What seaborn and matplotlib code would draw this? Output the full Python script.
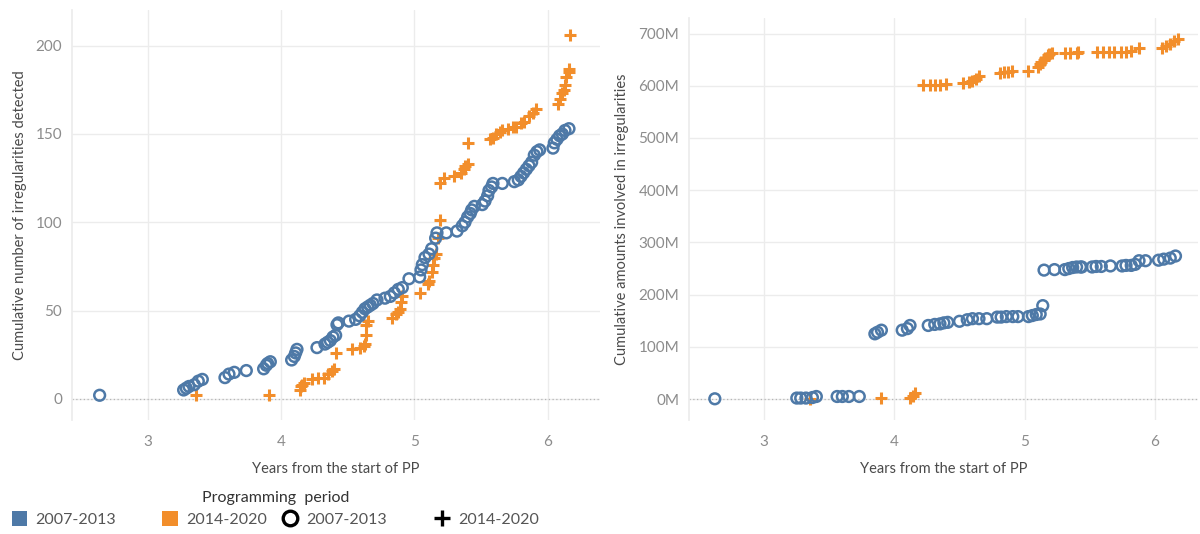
import numpy as np
import pandas as pd
import matplotlib.pyplot as plt
import seaborn as sns
from matplotlib.lines import Line2D
from matplotlib.patches import Patch
from matplotlib.ticker import FuncFormatter

sns.set_theme(style="whitegrid")
plt.rcParams['font.family'] = ['Lato', 'DejaVu Sans']

BLUE = "#4e79a7"
ORANGE = "#f28e2b"

# left panel: cumulative number of irregularities
cnt_old_years = [2.64, 3.27, 3.29, 3.31, 3.35, 3.38, 3.41, 3.58, 3.61, 3.65, 3.74, 3.87, 3.89, 3.90, 3.92,
                 4.08, 4.10, 4.11, 4.12, 4.27, 4.33, 4.35, 4.37, 4.39, 4.41, 4.42, 4.43, 4.51, 4.56, 4.59,
                 4.61, 4.63, 4.65, 4.67, 4.69, 4.72, 4.78, 4.82, 4.85, 4.88, 4.91, 4.96, 5.04, 5.05, 5.06,
                 5.08, 5.11, 5.13, 5.16, 5.17, 5.24, 5.32, 5.36, 5.38, 5.40, 5.42, 5.43, 5.45, 5.51, 5.53,
                 5.55, 5.56, 5.58, 5.59, 5.66, 5.75, 5.78, 5.80, 5.82, 5.84, 5.86, 5.88, 5.90, 5.92, 5.94,
                 6.04, 6.05, 6.07, 6.09, 6.11, 6.13, 6.16]
cnt_old_vals = [2, 5, 6, 7, 8, 10, 11, 12, 14, 15, 16, 17, 19, 20, 21,
                22, 24, 26, 28, 29, 31, 32, 33, 35, 36, 42, 43, 44, 45, 47,
                49, 51, 52, 53, 54, 56, 57, 58, 60, 62, 63, 68, 69, 73, 76,
                80, 82, 85, 91, 94, 94, 95, 98, 100, 103, 105, 107, 109, 110, 112,
                115, 118, 120, 122, 122, 123, 124, 126, 128, 130, 132, 134, 138, 140, 141,
                142, 145, 147, 149, 150, 152, 153]

cnt_new_years = [3.36, 3.91, 4.14, 4.15, 4.16, 4.17, 4.23, 4.28, 4.32, 4.35, 4.38, 4.40, 4.41, 4.53, 4.59,
                 4.62, 4.63, 4.64, 4.64, 4.65, 4.83, 4.86, 4.88, 4.89, 4.90, 4.91, 5.04, 5.10, 5.11, 5.13,
                 5.14, 5.15, 5.16, 5.18, 5.19, 5.19, 5.22, 5.30, 5.35, 5.37, 5.38, 5.40, 5.40, 5.57, 5.59,
                 5.61, 5.64, 5.66, 5.70, 5.74, 5.76, 5.80, 5.82, 5.86, 5.89, 5.91, 6.08, 6.09, 6.11, 6.12,
                 6.13, 6.14, 6.16, 6.16, 6.17]
cnt_new_vals = [2, 2, 5, 7, 8, 9, 11, 12, 12, 14, 16, 17, 26, 28, 29,
                30, 31, 36, 42, 44, 46, 48, 49, 51, 55, 58, 60, 65, 67, 72,
                76, 80, 82, 91, 101, 122, 125, 126, 128, 130, 132, 133, 145, 147, 148,
                150, 151, 152, 153, 154, 154, 156, 157, 160, 162, 164, 167, 170, 173, 175,
                178, 182, 185, 187, 206]

# right panel: cumulative amounts (millions)
amt_old_years = [2.62, 3.25, 3.28, 3.32, 3.37, 3.40, 3.56, 3.60, 3.65, 3.73, 3.85, 3.87, 3.90, 4.06, 4.10,
                 4.12, 4.26, 4.31, 4.35, 4.38, 4.41, 4.50, 4.56, 4.60, 4.65, 4.71, 4.79, 4.82, 4.86, 4.91,
                 4.95, 5.03, 5.06, 5.09, 5.12, 5.14, 5.15, 5.23, 5.31, 5.34, 5.37, 5.40, 5.43, 5.44, 5.52,
                 5.55, 5.59, 5.66, 5.75, 5.78, 5.82, 5.85, 5.88, 5.93, 6.03, 6.07, 6.12, 6.16]
amt_old_vals = [0.6, 2, 2, 2, 3, 5, 5, 5, 5, 5, 125, 128, 132, 132, 135,
                141, 141, 143, 144, 146, 147, 149, 152, 154, 154, 154, 157, 157, 158, 158,
                158, 158, 160, 162, 163, 179, 247, 248, 248, 250, 252, 253, 253, 253, 253,
                254, 254, 255, 255, 256, 256, 258, 265, 265, 266, 268, 270, 274]

amt_new_years = [3.35, 3.90, 4.12, 4.14, 4.16, 4.22, 4.27, 4.31, 4.35, 4.40, 4.53, 4.57, 4.60, 4.63, 4.65,
                 4.81, 4.84, 4.87, 4.90, 5.03, 5.10, 5.12, 5.13, 5.15, 5.16, 5.18, 5.19, 5.21, 5.31, 5.35,
                 5.40, 5.41, 5.56, 5.60, 5.65, 5.69, 5.74, 5.78, 5.82, 5.88, 6.06, 6.09, 6.12, 6.15, 6.18]
amt_new_vals = [0, 3, 2, 5, 11, 601, 601, 601, 602, 604, 605, 607, 610, 613, 618,
                624, 626, 627, 629, 629, 635, 642, 646, 649, 653, 658, 661, 662, 662, 662,
                662, 664, 664, 664, 664, 664, 664, 664, 666, 673, 673, 677, 680, 686, 689]

periods = ["2007-2013", "2014-2020"]

GRID = "#ececec"
TICK = "#8c8c8c"
LABEL = "#4a4a4a"

fig = plt.figure(figsize=(12, 5.34), dpi=100)
ax1 = fig.add_axes([0.0597, 0.2135, 0.44, 0.767])
ax2 = fig.add_axes([0.574, 0.2135, 0.424, 0.753])


def draw(ax, xo, yo, xn, yn):
    sns.scatterplot(x=xn, y=yn, ax=ax, marker='+', s=85, color=ORANGE, linewidth=2.2, zorder=3)
    sns.scatterplot(x=xo, y=yo, ax=ax, marker='o', s=60, color=BLUE, facecolor='none',
                    edgecolor=BLUE, linewidth=1.8, zorder=4)
    ax.axhline(0, color="#b5b5b5", linestyle=(0, (1, 2)), linewidth=0.9, zorder=1)
    ax.grid(True, color=GRID, linewidth=1)
    for s in ['top', 'right', 'bottom']:
        ax.spines[s].set_visible(False)
    ax.spines['left'].set_color(GRID)
    ax.set_xticks([3, 4, 5, 6])
    ax.tick_params(axis='both', length=0, labelcolor=TICK, labelsize=11)
    ax.tick_params(axis='x', pad=11)
    ax.tick_params(axis='y', pad=7)
    ax.set_xlabel("Years from the start of PP", fontsize=10.5, color=LABEL)


draw(ax1, cnt_old_years, cnt_old_vals, cnt_new_years, cnt_new_vals)
ax1.set_xlim(2.43, 6.39)
ax1.set_ylim(-12, 220)
ax1.set_yticks([0, 50, 100, 150, 200])
ax1.set_ylabel("Cumulative number of irregularities detected", fontsize=10.5, color=LABEL)
ax1.yaxis.set_label_coords(-0.085, 0.5)
ax1.xaxis.set_label_coords(0.5, -0.103)

draw(ax2, amt_old_years, amt_old_vals, amt_new_years, amt_new_vals)
ax2.set_xlim(2.42, 6.33)
ax2.set_ylim(-40, 730)
ax2.set_yticks(np.arange(0, 701, 100))
ax2.yaxis.set_major_formatter(FuncFormatter(lambda v, p: f"{v:.0f}M"))
ax2.set_ylabel("Cumulative amounts involved in irregularities", fontsize=10.5, color=LABEL)
ax2.yaxis.set_label_coords(-0.118, 0.5)
ax2.xaxis.set_label_coords(0.5, -0.105)

# legend: colour swatches, then shapes, with one shared title
color_handles = [Patch(facecolor=BLUE, edgecolor='none'), Patch(facecolor=ORANGE, edgecolor='none')]
shape_handles = [
    Line2D([], [], marker='o', linestyle='none', markerfacecolor='none', markeredgecolor='black',
           markersize=10.5, markeredgewidth=2.4),
    Line2D([], [], marker='+', linestyle='none', color='black', markersize=11.5, markeredgewidth=2.4),
]
leg_kw = dict(loc='center left', ncol=2, frameon=False, fontsize=11.5, handlelength=1.0,
              handleheight=1.0, handletextpad=0.5, borderpad=0, borderaxespad=0)
leg1 = fig.legend(color_handles, periods, bbox_to_anchor=(0.0096, 0.028), columnspacing=2.9, **leg_kw)
leg2 = fig.legend(shape_handles, periods, bbox_to_anchor=(0.235, 0.028), columnspacing=3.0, **leg_kw)
for leg in (leg1, leg2):
    for t in leg.get_texts():
        t.set_color("#555555")
fig.text(0.23, 0.068, "Programming  period", ha='center', va='center', fontsize=11.5, color="#333333")

fig.savefig("out.png", dpi=100)
